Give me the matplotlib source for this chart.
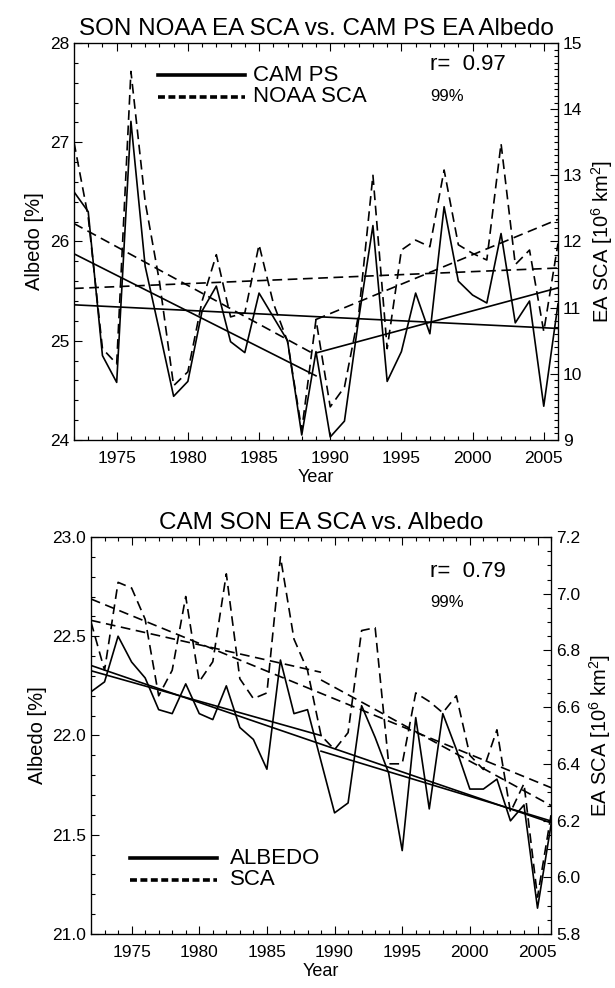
import numpy as np
import matplotlib
matplotlib.use("Agg")
import matplotlib.pyplot as plt
from matplotlib.ticker import MultipleLocator

plt.rcParams['font.family'] = ['Liberation Sans', 'DejaVu Sans']
plt.rcParams['mathtext.fontset'] = 'custom'
plt.rcParams['mathtext.rm'] = 'Liberation Sans'
plt.rcParams['mathtext.it'] = 'Liberation Sans:italic'
plt.rcParams['lines.scale_dashes'] = False

years = np.arange(1972, 2007)

# top panel: CAM PS albedo (%) and NOAA SCA (10^6 km^2)
cam_ps_albedo = [26.50, 26.30, 24.85, 24.58, 27.21, 25.75, 25.10, 24.44, 24.59, 25.30,
                 25.55, 24.99, 24.88, 25.48, 25.24, 25.00, 24.05, 24.89, 24.03, 24.19,
                 25.22, 26.16, 24.59, 24.89, 25.48, 25.07, 26.35, 25.60, 25.46, 25.38,
                 26.08, 25.18, 25.40, 24.34, 25.37]
noaa_sca = [13.50, 12.37, 10.38, 10.15, 14.57, 12.60, 11.40, 9.82, 10.03, 11.10,
            11.80, 10.86, 10.92, 11.95, 11.07, 10.49, 9.15, 10.82, 9.50, 9.80,
            10.90, 13.00, 10.38, 11.87, 12.02, 11.92, 13.08, 11.95, 11.82, 11.72,
            13.48, 11.65, 11.87, 10.64, 11.97]

# bottom panel: CAM albedo (%) and CAM SCA (10^6 km^2)
cam_albedo = [22.22, 22.27, 22.50, 22.37, 22.29, 22.13, 22.11, 22.26, 22.11, 22.08,
              22.25, 22.04, 21.98, 21.83, 22.38, 22.11, 22.13, 21.87, 21.61, 21.66,
              22.15, 21.99, 21.81, 21.42, 22.09, 21.63, 22.11, 21.93, 21.73, 21.73,
              21.78, 21.57, 21.65, 21.13, 21.55]
cam_sca = [6.90, 6.73, 7.04, 7.02, 6.91, 6.64, 6.73, 6.99, 6.69, 6.76,
           7.07, 6.70, 6.63, 6.65, 7.13, 6.84, 6.73, 6.50, 6.45, 6.51,
           6.87, 6.88, 6.40, 6.40, 6.65, 6.62, 6.58, 6.64, 6.43, 6.38,
           6.52, 6.23, 6.33, 5.93, 6.22]

# trend periods: full record and the two halves split at 1989
periods = [(1972, 2006), (1972, 1989), (1989, 2006)]

LW = 1.2
DASH = (7, 4)


def add_trends(ax, x, y, **kw):
    x = np.asarray(x)
    y = np.asarray(y)
    for lo, hi in periods:
        m = (x >= lo) & (x <= hi)
        p = np.polyfit(x[m], y[m], 1)
        xx = np.array([lo, hi])
        ax.plot(xx, np.polyval(p, xx), color='black', lw=LW, **kw)


def style_axes(ax, ax2, ymaj, ymin, y2maj, y2min):
    ax.set_xlim(1972, 2006)
    ax.xaxis.set_major_locator(MultipleLocator(5))
    ax.xaxis.set_minor_locator(MultipleLocator(1))
    ax.yaxis.set_major_locator(MultipleLocator(ymaj))
    ax.yaxis.set_minor_locator(MultipleLocator(ymin))
    ax2.yaxis.set_major_locator(MultipleLocator(y2maj))
    ax2.yaxis.set_minor_locator(MultipleLocator(y2min))
    ax.tick_params(axis='both', which='both', direction='in', labelsize=12.5,
                   top=True, right=False, width=0.8)
    ax.tick_params(which='major', length=6)
    ax.tick_params(which='minor', length=3)
    ax2.tick_params(axis='y', which='both', direction='in', labelsize=12.5, width=0.8)
    ax2.tick_params(which='major', length=6)
    ax2.tick_params(which='minor', length=3)
    ax.tick_params(axis='x', pad=8)
    for s in ax.spines.values():
        s.set_linewidth(0.9)
    ax.set_xlabel('Year', fontsize=13, labelpad=2)
    ax.set_ylabel('Albedo [%]', fontsize=14.5, labelpad=4)
    ax2.set_ylabel(r'EA SCA [10$^{6}$ km$^{2}$]', fontsize=14.5, labelpad=5)


fig = plt.figure(figsize=(6.15, 9.88), dpi=100)

# ---- top panel
ax = fig.add_axes([0.1203, 0.5547, 0.787, 0.4018])
ax2 = ax.twinx()
ax.plot(years, cam_ps_albedo, color='black', lw=LW)
add_trends(ax, years, cam_ps_albedo)
ax2.plot(years, noaa_sca, color='black', lw=LW, dashes=DASH)
add_trends(ax2, years, noaa_sca, dashes=DASH)
ax.set_ylim(24, 28)
ax2.set_ylim(9, 15)
style_axes(ax, ax2, 1, 0.2, 1, 0.1)
ax.set_title('SON NOAA EA SCA vs. CAM PS EA Albedo', fontsize=17.5, pad=6)

ax.plot([0.174, 0.353], [0.919, 0.919], transform=ax.transAxes, color='black', lw=2.6)
ax.plot([0.174, 0.353], [0.864, 0.864], transform=ax.transAxes, color='black', lw=2.6,
        dashes=(5, 2.5))
ax.text(0.37, 0.919, 'CAM PS', transform=ax.transAxes, fontsize=16, va='center')
ax.text(0.37, 0.864, 'NOAA SCA', transform=ax.transAxes, fontsize=16, va='center')
ax.text(0.736, 0.945, 'r=  0.97', transform=ax.transAxes, fontsize=16, va='center')
ax.text(0.736, 0.866, '99%', transform=ax.transAxes, fontsize=12, va='center')

# ---- bottom panel
bx = fig.add_axes([0.148, 0.0547, 0.748, 0.4018])
bx2 = bx.twinx()
bx.plot(years, cam_albedo, color='black', lw=LW)
add_trends(bx, years, cam_albedo)
bx2.plot(years, cam_sca, color='black', lw=LW, dashes=DASH)
add_trends(bx2, years, cam_sca, dashes=DASH)
bx.set_ylim(21.0, 23.0)
bx2.set_ylim(5.8, 7.2)
bx.yaxis.set_major_formatter('{x:.1f}')
bx2.yaxis.set_major_formatter('{x:.1f}')
style_axes(bx, bx2, 0.5, 0.1, 0.2, 0.05)
bx.set_title('CAM SON EA SCA vs. Albedo', fontsize=17.5, pad=6)

bx.plot([0.085, 0.274], [0.191, 0.191], transform=bx.transAxes, color='black', lw=2.6)
bx.plot([0.085, 0.274], [0.136, 0.136], transform=bx.transAxes, color='black', lw=2.6,
        dashes=(5, 2.5))
bx.text(0.302, 0.191, 'ALBEDO', transform=bx.transAxes, fontsize=16, va='center')
bx.text(0.302, 0.136, 'SCA', transform=bx.transAxes, fontsize=16, va='center')
bx.text(0.737, 0.913, 'r=  0.79', transform=bx.transAxes, fontsize=16, va='center')
bx.text(0.737, 0.834, '99%', transform=bx.transAxes, fontsize=12, va='center')

fig.savefig('out.png', dpi=100)
